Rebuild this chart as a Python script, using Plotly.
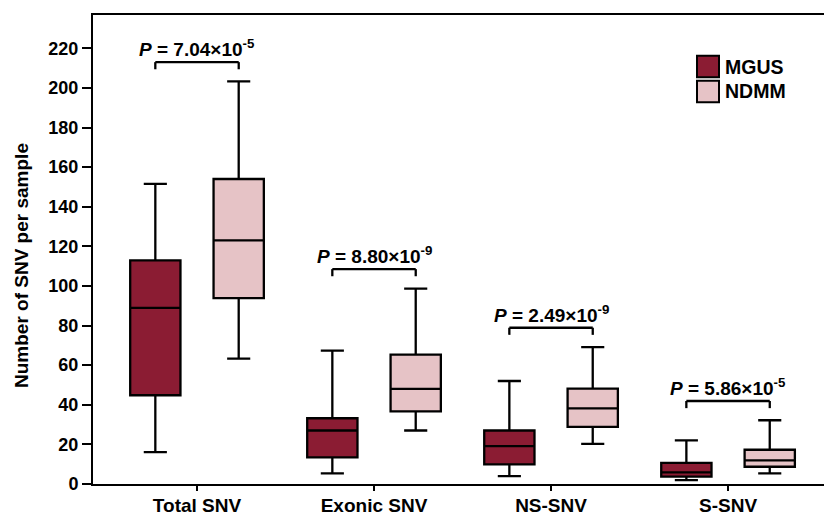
import plotly.graph_objects as go

categories = ["Total SNV", "Exonic SNV", "NS-SNV", "S-SNV"]

# MGUS box statistics
mgus_low = [16.1, 5.4, 4.0, 2.0]
mgus_q1 = [44.8, 13.4, 9.9, 3.7]
mgus_med = [88.9, 27.0, 19.1, 5.9]
mgus_q3 = [112.9, 33.2, 27.0, 10.7]
mgus_high = [151.5, 67.3, 52.0, 22.0]

# NDMM box statistics
ndmm_low = [63.3, 27.0, 20.3, 5.4]
ndmm_q1 = [93.8, 36.7, 28.8, 8.7]
ndmm_med = [123.0, 48.0, 38.2, 11.9]
ndmm_q3 = [154.0, 65.3, 48.2, 17.3]
ndmm_high = [203.3, 98.6, 69.1, 32.2]

# significance brackets
p_labels = ["7.04×10<sup>-5</sup>", "8.80×10<sup>-9</sup>",
            "2.49×10<sup>-9</sup>", "5.86×10<sup>-5</sup>"]
bracket_y = [213.0, 108.5, 78.9, 41.9]

y_ticks = list(range(0, 221, 20))

MGUS_COLOR = "#8B1C33"
NDMM_COLOR = "#E6C3C6"
FONT = "Liberation Sans, Arial, sans-serif"

fig = go.Figure()
fig.add_trace(go.Box(
    name="MGUS", x=categories, q1=mgus_q1, median=mgus_med, q3=mgus_q3,
    lowerfence=mgus_low, upperfence=mgus_high,
    fillcolor=MGUS_COLOR, line=dict(color="black", width=2.3),
    whiskerwidth=0.46, showlegend=False, boxpoints=False,
))
fig.add_trace(go.Box(
    name="NDMM", x=categories, q1=ndmm_q1, median=ndmm_med, q3=ndmm_q3,
    lowerfence=ndmm_low, upperfence=ndmm_high,
    fillcolor=NDMM_COLOR, line=dict(color="black", width=2.3),
    whiskerwidth=0.46, showlegend=False, boxpoints=False,
))

OFF = 0.2356
LEG = 3.6
shapes = []
annotations = []
for i, (lab, yb) in enumerate(zip(p_labels, bracket_y)):
    x0, x1 = i - OFF, i + OFF
    for (a, b, c, d) in [(x0, yb - LEG, x0, yb), (x0, yb, x1, yb), (x1, yb, x1, yb - LEG)]:
        shapes.append(dict(type="line", xref="x", yref="y", x0=a, y0=b, x1=c, y1=d,
                           line=dict(color="black", width=2.3)))
    annotations.append(dict(
        x=i, y=yb, xref="x", yref="y", yanchor="bottom", yshift=0,
        text="<i>P</i> = " + lab, showarrow=False,
        font=dict(family=FONT, size=19, color="black", weight="bold"),
    ))

# custom legend
W = 824 - 93
H = 484 - 15
def px(x):
    return (x - 93) / W
def py(y):
    return (484 - y) / H

legend_items = [("MGUS", MGUS_COLOR, 55.7, 77.3), ("NDMM", NDMM_COLOR, 80.7, 102.3)]
for name, col, ytop, ybot in legend_items:
    shapes.append(dict(type="rect", xref="paper", yref="paper",
                       x0=px(697), x1=px(719), y0=py(ybot), y1=py(ytop),
                       fillcolor=col, line=dict(color="black", width=2)))
    annotations.append(dict(x=px(723), y=py((ytop + ybot) / 2), xref="paper", yref="paper",
                            xanchor="left", yanchor="middle", text=name, showarrow=False,
                            font=dict(family=FONT, size=19.5, color="black", weight="bold")))

# y-axis title
annotations.append(dict(x=px(21), y=py(266), xref="paper", yref="paper",
                        xanchor="center", yanchor="middle", textangle=-90,
                        text="Number of SNV per sample", showarrow=False,
                        font=dict(family=FONT, size=19, color="black", weight="bold")))

fig.update_layout(
    width=824, height=516,
    margin=dict(l=93, r=0, t=15, b=32, autoexpand=False),
    paper_bgcolor="white", plot_bgcolor="white",
    boxmode="group", boxgap=0.058, boxgroupgap=0.397,
    shapes=shapes, annotations=annotations,
    showlegend=False,
    xaxis=dict(
        type="category", categoryorder="array", categoryarray=categories,
        range=[-0.5876, 3.542], showline=True, mirror=True, linecolor="black", linewidth=2,
        ticks="outside", ticklen=5, tickwidth=2, tickcolor="black",
        tickfont=dict(family=FONT, size=19, color="black", weight="bold"),
        ticklabelstandoff=-2,
        showgrid=False, zeroline=False, automargin=False,
    ),
    yaxis=dict(
        range=[0, 236.8], tickvals=y_ticks, showline=True, linecolor="black", linewidth=2,
        ticks="outside", ticklen=9, tickwidth=2, tickcolor="black",
        tickfont=dict(family=FONT, size=18, color="black", weight="bold"),
        showgrid=False, zeroline=False, automargin=False,
    ),
)

fig.write_html("out.html", config={"displayModeBar": False, "staticPlot": True},
               post_script="document.body.style.margin='0px';document.body.style.overflow='hidden';")
